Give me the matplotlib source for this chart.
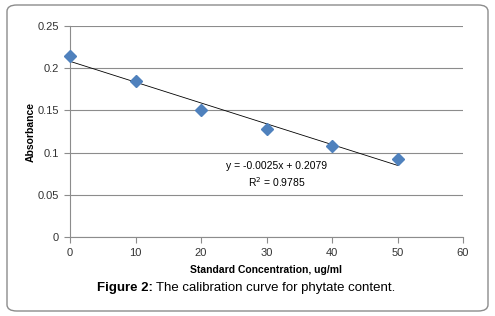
import numpy as np
import matplotlib
matplotlib.use("Agg")
import matplotlib.pyplot as plt
from matplotlib.patches import FancyBboxPatch

# standard concentration (ug/ml) and measured absorbance
concentration = [0, 10, 20, 30, 40, 50]
absorbance = [0.215, 0.185, 0.150, 0.128, 0.108, 0.093]

x_ticks = [0, 10, 20, 30, 40, 50, 60]
y_ticks = [0, 0.05, 0.1, 0.15, 0.2, 0.25]
y_tick_labels = ["0", "0.05", "0.1", "0.15", "0.2", "0.25"]

equation = "y = -0.0025x + 0.2079"
r_squared = "R$^2$ = 0.9785"

plt.rcParams['font.family'] = ['Liberation Sans', 'DejaVu Sans']

fig = plt.figure(figsize=(4.95, 3.16), dpi=100)

# rounded frame around chart + caption
frame = FancyBboxPatch((7 / 495, 5 / 316), 481 / 495, 306 / 316,
                       boxstyle="round,pad=0,rounding_size=0.02",
                       transform=fig.transFigure, facecolor="white",
                       edgecolor="#8c8c8c", linewidth=1.0, zorder=-5)
fig.patches.append(frame)

ax = fig.add_axes([70 / 495, 79 / 316, 393 / 495, 211 / 316])
ax.set_facecolor("none")

# linear trendline
slope, intercept = np.polyfit(concentration, absorbance, 1)
xs = np.array([concentration[0], concentration[-1]])
ax.plot(xs, slope * xs + intercept, color="black", linewidth=0.6, zorder=2)

ax.plot(concentration, absorbance, linestyle="none", marker="D",
        markersize=6, color="#4F81BD", markeredgecolor="#4F81BD", zorder=3,
        clip_on=False)

ax.text(31.6, 0.084, equation, fontsize=7.5, ha="center", va="center")
ax.text(31.6, 0.065, r_squared, fontsize=7.5, ha="center", va="center")

ax.set_xlim(0, 60)
ax.set_ylim(0, 0.25)
ax.set_xticks(x_ticks)
ax.set_yticks(y_ticks)
ax.set_yticklabels(y_tick_labels)
ax.tick_params(axis="both", labelsize=8, colors="#8c8c8c", labelcolor="#333333",
               length=4, width=0.8, direction="out", pad=4)
ax.grid(axis="y", color="#8c8c8c", linewidth=0.8)
ax.set_axisbelow(True)
for side in ["top", "right"]:
    ax.spines[side].set_visible(False)
for side in ["left", "bottom"]:
    ax.spines[side].set_color("#8c8c8c")
    ax.spines[side].set_linewidth(0.8)

ax.set_xlabel("Standard Concentration, ug/ml", fontsize=7.5, fontweight="bold",
              labelpad=5)
ax.set_ylabel("Absorbance", fontsize=7.5, fontweight="bold", labelpad=1)

# caption
fig.text(0.309, 28 / 316, "Figure 2:", fontsize=9.5, fontweight="bold",
         ha="right", va="center")
fig.text(0.316, 28 / 316, "The calibration curve for phytate content.",
         fontsize=9.5, ha="left", va="center")

fig.savefig("out.png", dpi=100)
